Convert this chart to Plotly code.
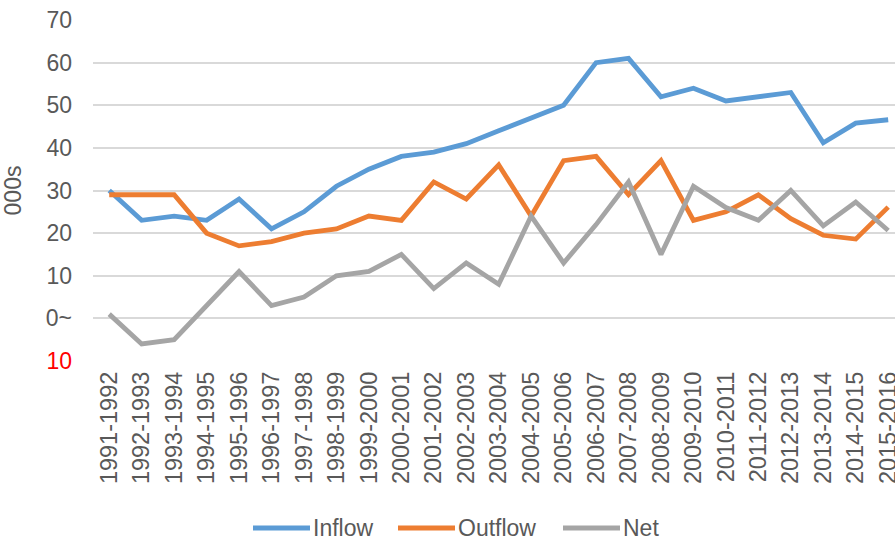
import plotly.graph_objects as go

categories = ["1991-1992", "1992-1993", "1993-1994", "1994-1995", "1995-1996",
              "1996-1997", "1997-1998", "1998-1999", "1999-2000", "2000-2001",
              "2001-2002", "2002-2003", "2003-2004", "2004-2005", "2005-2006",
              "2006-2007", "2007-2008", "2008-2009", "2009-2010", "2010-2011",
              "2011-2012", "2012-2013", "2013-2014", "2014-2015", "2015-2016"]

inflow = [30, 23, 24, 23, 28, 21, 25, 31, 35, 38, 39, 41, 44, 47, 50,
          60, 61, 52, 54, 51, 52, 53, 41.2, 45.8, 46.6]
outflow = [29, 29, 29, 20, 17, 18, 20, 21, 24, 23, 32, 28, 36, 24, 37,
           38, 29, 37, 23, 25, 29, 23.4, 19.5, 18.6, 26.1]
net = [1, -6, -5, 3, 11, 3, 5, 10, 11, 15, 7, 13, 8, 24, 13,
       22, 32, 15, 31, 26, 23, 30, 21.7, 27.3, 20.6]

y_tickvals = [70, 60, 50, 40, 30, 20, 10, 0, -10]
y_ticktext = ["70", "60", "50", "40", "30", "20", "10", "0~",
              "<span style='color:#FF0000'>10</span>"]

series = [("Inflow", inflow, "#5B9BD5"),
          ("Outflow", outflow, "#ED7D31"),
          ("Net", net, "#A5A5A5")]

FONT = "Liberation Sans, Arial, sans-serif"
TXT = "#595959"

W, H = 895, 541
ML, MR, MT, MB = 93, 0, 20, 180
PW, PH = W - ML - MR, H - MT - MB


def px_x(p):
    return (p - ML) / PW


def px_y(p):
    return (H - MB - p) / PH


fig = go.Figure()
for name, vals, color in series:
    fig.add_trace(go.Scatter(x=categories, y=vals, name=name, mode="lines",
                             line=dict(color=color, width=4.8), showlegend=False))

# custom legend (Excel-style long line samples)
legend_items = [("Inflow", "#5B9BD5", 253), ("Outflow", "#ED7D31", 398), ("Net", "#A5A5A5", 563)]
legend_y = 528
shapes, annots = [], []
for name, color, x0 in legend_items:
    shapes.append(dict(type="line", xref="paper", yref="paper",
                       x0=px_x(x0), x1=px_x(x0 + 57), y0=px_y(legend_y), y1=px_y(legend_y),
                       line=dict(color=color, width=4.8)))
    annots.append(dict(text=name, xref="paper", yref="paper", x=px_x(x0 + 58), y=px_y(legend_y),
                       xanchor="left", yanchor="middle", showarrow=False,
                       font=dict(family=FONT, size=23, color=TXT)))

fig.update_layout(
    width=W, height=H,
    margin=dict(l=ML, r=MR, t=MT, b=MB),
    paper_bgcolor="white", plot_bgcolor="white",
    font=dict(family=FONT, size=23, color=TXT),
    showlegend=False,
    shapes=shapes, annotations=annots,
    xaxis=dict(type="category", range=[-0.5, 24.21], showgrid=False, zeroline=False,
               showline=False, ticks="", tickangle=-90, automargin=False,
               ticklabelstandoff=5,
               tickfont=dict(family=FONT, size=23.5, color=TXT)),
    yaxis=dict(range=[-10, 70], tickvals=y_tickvals, ticktext=y_ticktext,
               showgrid=True, gridcolor="#D9D9D9", gridwidth=1.5, zeroline=False,
               showline=False, ticks="", ticklabelstandoff=20, automargin=False,
               tickfont=dict(family=FONT, size=23, color=TXT),
               title=dict(text="000s", standoff=20,
                          font=dict(family=FONT, size=23, color=TXT))),
)

fig.write_html("out.html")
